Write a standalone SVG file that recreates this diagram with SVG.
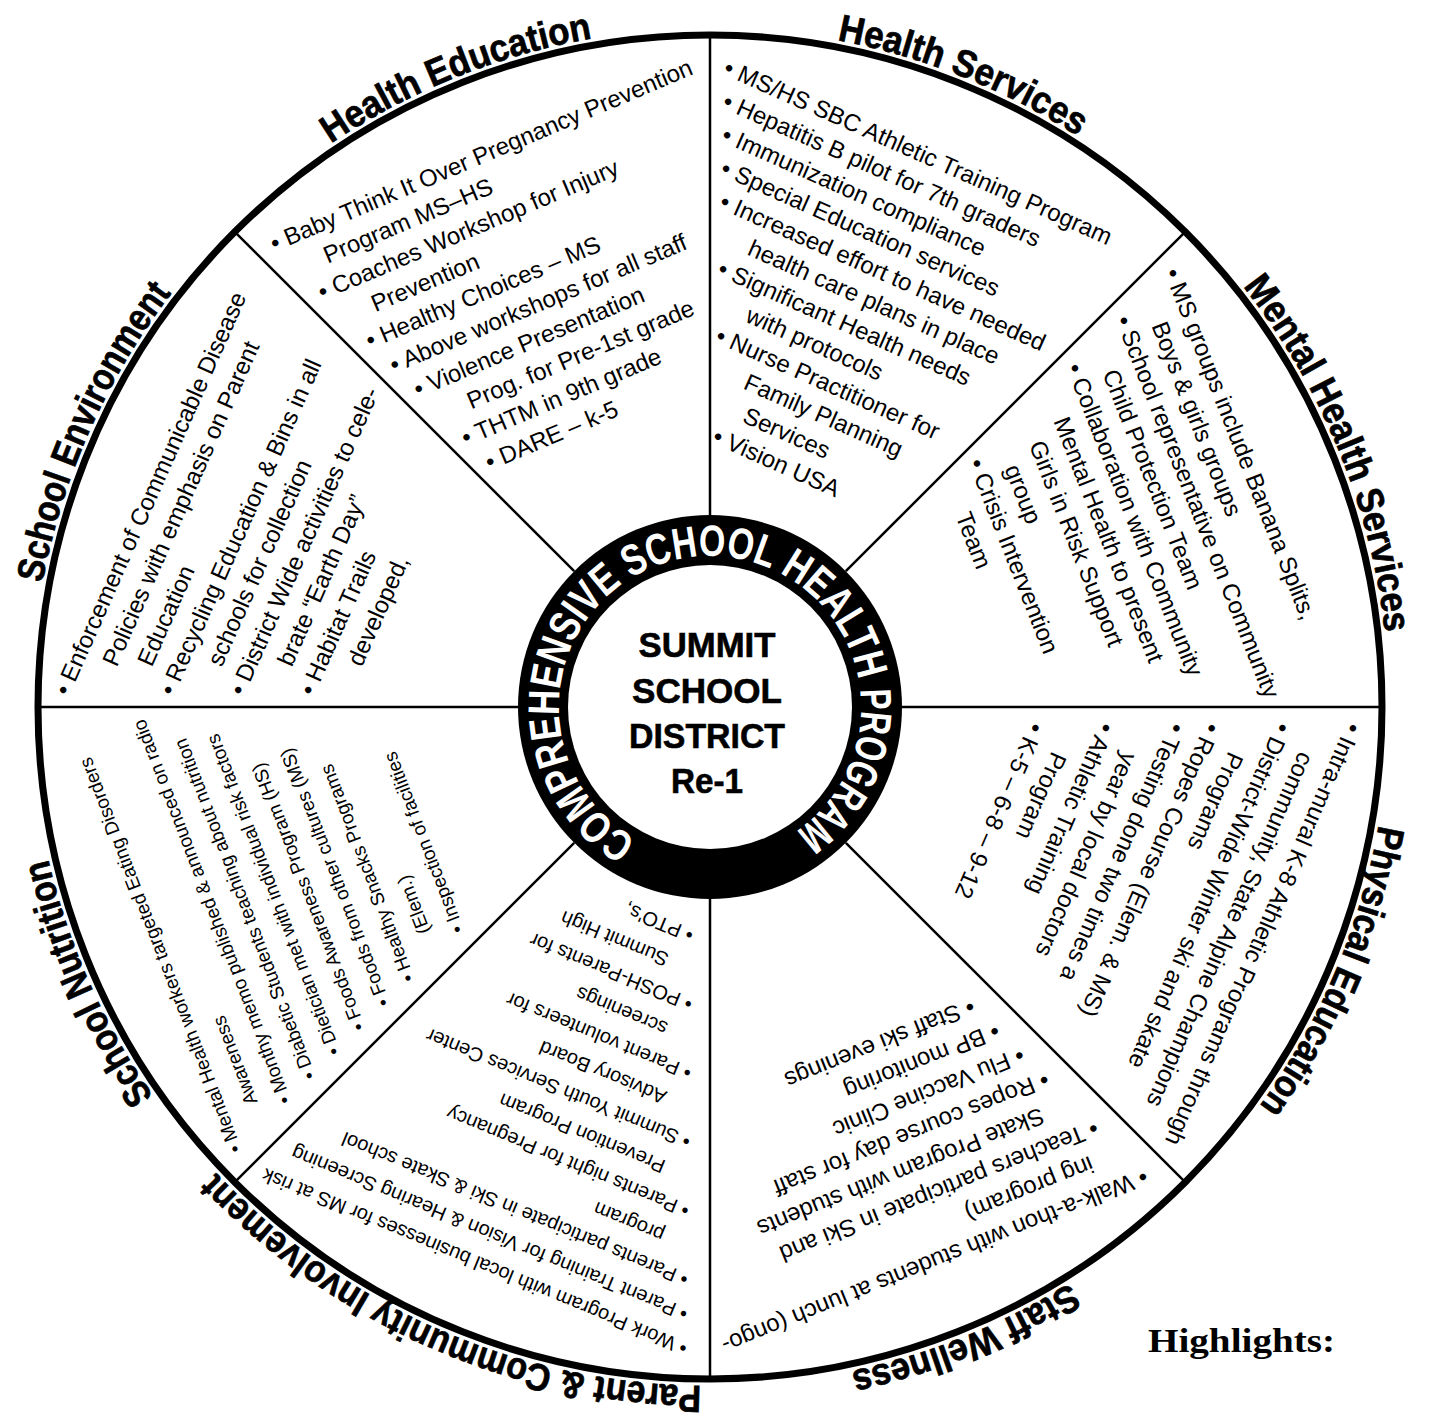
<svg xmlns="http://www.w3.org/2000/svg" width="1431" height="1419" viewBox="0 0 1431 1419">
<style>
.body{font-family:"Liberation Sans",Arial,sans-serif;font-size:24px;fill:#000}
.s20{font-size:20px}
.s19{font-size:19px}
.title{font-family:"Liberation Sans",Arial,sans-serif;font-weight:bold;font-size:38px;fill:#000;stroke:#000;stroke-width:0.7}
.ring{font-family:"Liberation Sans",Arial,sans-serif;font-weight:bold;font-size:44px;fill:#fff}
.center{font-family:"Liberation Sans",Arial,sans-serif;font-weight:bold;font-size:35px;fill:#000;stroke:#000;stroke-width:0.6;text-anchor:middle}
.spoke{stroke:#000;stroke-width:2.5;fill:none}
</style>
<defs>
<path id="titlePath" d="M710,28 A679,679 0 1 1 710,1386 A679,679 0 1 1 710,28"/>
<path id="ringPath" d="M636.8,839.1 A151,151 0 1 1 783.2,839.1"/>
</defs>
<rect width="1431" height="1419" fill="#fff"/>

<g id="connectors">
<circle cx="710" cy="707" r="672" fill="none" stroke="#000" stroke-width="7"/>
<line class="spoke" x1="710" y1="515" x2="710" y2="35"/>
<line class="spoke" x1="710" y1="899" x2="710" y2="1379"/>
<line class="spoke" x1="518" y1="707" x2="38" y2="707"/>
<line class="spoke" x1="902" y1="707" x2="1382" y2="707"/>
<line class="spoke" x1="845.8" y1="571.2" x2="1185.2" y2="231.8"/>
<line class="spoke" x1="845.8" y1="842.8" x2="1185.2" y2="1182.2"/>
<line class="spoke" x1="574.2" y1="842.8" x2="234.8" y2="1182.2"/>
<line class="spoke" x1="574.2" y1="571.2" x2="234.8" y2="231.8"/>
</g>

<g id="hub">
<circle cx="710" cy="707" r="192" fill="#000"/>
<circle cx="710" cy="707" r="142" fill="#fff"/>
<text class="ring"><textPath href="#ringPath" startOffset="0" textLength="305" lengthAdjust="spacingAndGlyphs">COMPREHENSIVE</textPath></text>
<text class="ring"><textPath href="#ringPath" startOffset="314.5" textLength="145.7" lengthAdjust="spacingAndGlyphs">SCHOOL</textPath></text>
<text class="ring"><textPath href="#ringPath" startOffset="469.7" textLength="138.1" lengthAdjust="spacingAndGlyphs">HEALTH</textPath></text>
<text class="ring"><textPath href="#ringPath" startOffset="617.2" textLength="164" lengthAdjust="spacingAndGlyphs">PROGRAM</textPath></text>
<text class="center" x="707" y="657" textLength="137" lengthAdjust="spacingAndGlyphs">SUMMIT</text>
<text class="center" x="707" y="703" textLength="150" lengthAdjust="spacingAndGlyphs">SCHOOL</text>
<text class="center" x="707" y="748" textLength="156" lengthAdjust="spacingAndGlyphs">DISTRICT</text>
<text class="center" x="707" y="793" textLength="72" lengthAdjust="spacingAndGlyphs">Re-1</text>
</g>

<g id="titles">
<text class="title" text-anchor="middle"><textPath href="#titlePath" startOffset="4005.6" textLength="284" lengthAdjust="spacingAndGlyphs">Health Education</textPath></text>
<text class="title" text-anchor="middle"><textPath href="#titlePath" startOffset="258.4" textLength="261" lengthAdjust="spacingAndGlyphs">Health Services</textPath></text>
<text class="title" text-anchor="middle"><textPath href="#titlePath" startOffset="802.3" textLength="379" lengthAdjust="spacingAndGlyphs">Mental Health Services</textPath></text>
<text class="title" text-anchor="middle"><textPath href="#titlePath" startOffset="1339.2" textLength="308" lengthAdjust="spacingAndGlyphs">Physical Education</textPath></text>
<text class="title" text-anchor="middle"><textPath href="#titlePath" startOffset="1872.5" textLength="237" lengthAdjust="spacingAndGlyphs">Staff Wellness</textPath></text>
<text class="title" text-anchor="middle"><textPath href="#titlePath" startOffset="2414.1" textLength="545" lengthAdjust="spacingAndGlyphs">Parent &amp; Community Involvement</textPath></text>
<text class="title" text-anchor="middle"><textPath href="#titlePath" startOffset="2915.4" textLength="261" lengthAdjust="spacingAndGlyphs">School Nutrition</textPath></text>
<text class="title" text-anchor="middle"><textPath href="#titlePath" startOffset="3484.2" textLength="320" lengthAdjust="spacingAndGlyphs">School Environment</textPath></text>
</g>

<g id="health-education" class="body" transform="translate(275,243) rotate(-23)">
<text x="-4" y="8">• Baby Think It Over Pregnancy Prevention</text>
<text x="40.5" y="39.7">Program MS–HS</text>
<text x="21" y="71.4">• Coaches Workshop for Injury</text>
<text x="65.5" y="103.1">Prevention</text>
<text x="46" y="134.8">• Healthy Choices – MS</text>
<text x="58.6" y="166.6">• Above workshops for all staff</text>
<text x="71.1" y="198.3">• Violence Presentation</text>
<text x="115.6" y="230">Prog. for Pre-1st grade</text>
<text x="96.1" y="261.7">• THTM in 9th grade</text>
<text x="108.6" y="293.4">• DARE – k-5</text>
</g>

<g id="health-services" class="body" transform="translate(729,68) rotate(24)">
<text x="-4" y="8">• MS/HS SBC Athletic Training Program</text>
<text x="8.7" y="39">• Hepatitis B pilot for 7th graders</text>
<text x="21.4" y="70">• Immunization compliance</text>
<text x="34.1" y="101">• Special Education services</text>
<text x="46.8" y="132">• Increased effort to have needed</text>
<text x="91.6" y="163.1">health care plans in place</text>
<text x="72.3" y="194.1">• Significant Health needs</text>
<text x="117" y="225.1">with protocols</text>
<text x="97.7" y="256.1">• Nurse Practitioner for</text>
<text x="142.4" y="287.1">Family Planning</text>
<text x="155.1" y="318.1">Services</text>
<text x="135.8" y="349.1">• Vision USA</text>
</g>

<g id="mental-health-services" class="body" transform="translate(1173,273) rotate(68.5)">
<text x="-4" y="8">• MS groups include Banana Splits,</text>
<text x="41.2" y="39.5">Boys &amp; girls groups</text>
<text x="22.3" y="71">• School representative on Community</text>
<text x="67.5" y="102.6">Child Protection Team</text>
<text x="48.6" y="134.1">• Collaboration with Community</text>
<text x="93.8" y="165.6">Mental Health to present</text>
<text x="107" y="197.1">Girls in Risk Support</text>
<text x="120.1" y="228.6">group</text>
<text x="101.3" y="260.2">• Crisis Intervention</text>
<text x="146.4" y="291.7">Team</text>
</g>

<g id="physical-education" class="body" transform="translate(1353,728) rotate(113.5)">
<text x="-4" y="8">• Intra-mural K-8 Athletic Programs through</text>
<text x="42.1" y="40.4">community, State Alpine Champions</text>
<text x="24.1" y="72.7">• District-Wide Winter ski and skate</text>
<text x="70.2" y="105.1">Programs</text>
<text x="52.3" y="137.5">• Ropes Course (Elem. &amp; MS)</text>
<text x="66.4" y="169.9">• Testing done two times a</text>
<text x="112.4" y="202.2">year by local doctors</text>
<text x="94.5" y="234.6">• Athletic Training</text>
<text x="140.6" y="267">Program</text>
<text x="122.6" y="299.3">• K-5 – 6-8 – 9-12</text>
</g>

<g id="staff-wellness" class="body" transform="translate(1143,1177) rotate(158)">
<text x="-4" y="8">• Walk-a-thon with students at lunch (ongo-</text>
<text x="41.8" y="39.8">ing program)</text>
<text x="23.6" y="71.6">• Teachers participate in Ski and</text>
<text x="69.4" y="103.3">Skate Program with students</text>
<text x="51.2" y="135.1">• Ropes course day for staff</text>
<text x="65" y="166.9">• Flu Vaccine Clinic</text>
<text x="78.8" y="198.7">• BP monitoring</text>
<text x="92.6" y="230.5">• Staff ski evenings</text>
</g>

<g id="parent-community" class="body s20" transform="translate(683,1348) rotate(202.5)">
<text x="-3.5" y="6.7">• Work Program with local businesses for MS at risk</text>
<text x="9.2" y="38.7">• Parent Training for Vision &amp; Hearing Screening</text>
<text x="21.9" y="70.7">• Parents participate in Ski &amp; Skate school</text>
<text x="61.1" y="102.7">program</text>
<text x="47.3" y="134.7">• Parents night for Pregnancy</text>
<text x="86.5" y="166.7">Prevention Program</text>
<text x="72.7" y="198.7">• Summit Youth Services Center</text>
<text x="111.9" y="230.7">Advisory Board</text>
<text x="98.1" y="262.7">• Parent volunteers for</text>
<text x="137.3" y="294.7">screenings</text>
<text x="123.5" y="326.7">• POSH-Parents for</text>
<text x="162.7" y="358.7">Summit High</text>
<text x="148.9" y="390.7">• PTO's,</text>
</g>

<g id="school-nutrition" class="body s19" transform="translate(235,1149) rotate(249)">
<text x="-3.3" y="6.3">• Mental Health workers targeted Eating Disorders</text>
<text x="35.9" y="38.1">Awareness</text>
<text x="24.6" y="69.9">• Monthy memo published &amp; announced on radio</text>
<text x="38.5" y="101.7">• Diabetic Students teaching about nutrition</text>
<text x="52.4" y="133.5">• Dietician met with individual risk factors</text>
<text x="66.4" y="165.3">• Foods Awareness Program (HS)</text>
<text x="80.3" y="197.1">• Foods from other cultures (MS)</text>
<text x="94.2" y="228.9">• Healthy Snacks Programs</text>
<text x="133.4" y="260.7">(Elem.)</text>
<text x="122.1" y="292.5">• Inspection of facilities</text>
</g>

<g id="school-environment" class="body" transform="translate(63,690) rotate(-66)">
<text x="-4" y="8">• Enforcement of Communicable Disease</text>
<text x="42.2" y="40">Policies with emphasis on Parent</text>
<text x="56.5" y="71.9">Education</text>
<text x="38.7" y="103.9">• Recycling Education &amp; Bins in all</text>
<text x="84.9" y="135.9">schools for collection</text>
<text x="67.2" y="167.9">• District Wide activities to cele-</text>
<text x="113.4" y="199.8">brate “Earth Day”</text>
<text x="95.6" y="231.8">• Habitat Trails</text>
<text x="141.8" y="263.8">developed,</text>
</g>

<g id="highlights">
<text x="1148" y="1352" font-family="'Liberation Serif',serif" font-weight="bold" font-size="34" textLength="187" lengthAdjust="spacingAndGlyphs">Highlights:</text>
</g>
</svg>
